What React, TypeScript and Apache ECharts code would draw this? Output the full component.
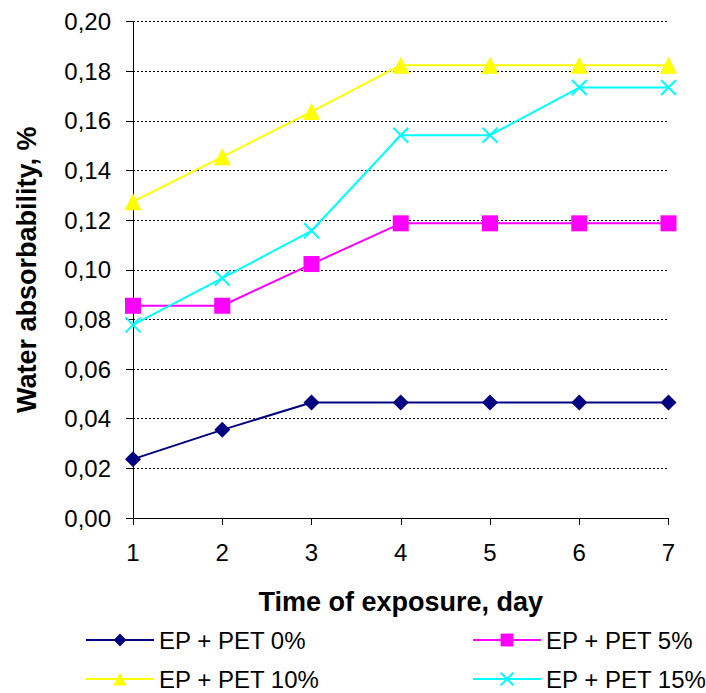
import React, { useEffect, useRef } from "react";
import * as echarts from "echarts";

// Exposure time, days
const days = ["1", "2", "3", "4", "5", "6", "7"];

// Water absorbability, %
const pet0 = [0.0237, 0.0355, 0.0465, 0.0465, 0.0465, 0.0465, 0.0465];
const pet5 = [0.0855, 0.0855, 0.1023, 0.1187, 0.1187, 0.1187, 0.1187];
const pet10 = [0.1274, 0.1455, 0.1637, 0.1824, 0.1824, 0.1824, 0.1824];
const pet15 = [0.0778, 0.0966, 0.1157, 0.1542, 0.1542, 0.1734, 0.1734];

const seriesNames = ["EP + PET 0%", "EP + PET 5%", "EP + PET 10%", "EP + PET 15%"];
const yTicks = { min: 0, max: 0.2, interval: 0.02 };

const FONT = 'Arial, "Liberation Sans", sans-serif';
const CROSS = "path://M0,0L10,10M10,0L0,10";

export default function App() {
  const ref = useRef<HTMLDivElement>(null);

  useEffect(() => {
    if (!ref.current) return;
    const chart = echarts.init(ref.current, undefined, { renderer: "svg" });

    const legendBase = {
      orient: "horizontal",
      itemWidth: 68,
      itemHeight: 16,
      textStyle: { fontFamily: FONT, fontSize: 24, color: "#000" },
      padding: 0,
    };

    const mkSeries = (
      name: string,
      data: number[],
      color: string,
      symbol: string,
      symbolSize: number,
      extraItem: Record<string, unknown> = {}
    ) => ({
      name,
      type: "line",
      data,
      symbol,
      symbolSize,
      showSymbol: true,
      lineStyle: { color, width: 2 },
      itemStyle: { color, ...extraItem },
      emphasis: { disabled: true },
    });

    chart.setOption({
      animation: false,
      backgroundColor: "#fff",
      textStyle: { fontFamily: FONT },
      grid: { left: 133, right: 37.5, top: 21.5, bottom: 175, containLabel: false },
      legend: [
        { ...legendBase, left: 85, top: 628, data: [seriesNames[0]] },
        { ...legendBase, left: 472, top: 628, data: [seriesNames[1]] },
        { ...legendBase, left: 85, top: 667, data: [seriesNames[2]] },
        { ...legendBase, left: 472, top: 667, data: [seriesNames[3]] },
      ],
      xAxis: {
        type: "category",
        data: days,
        boundaryGap: false,
        name: "Time of exposure, day",
        nameLocation: "middle",
        nameGap: 70,
        nameTextStyle: { fontFamily: FONT, fontSize: 27, fontWeight: "bold", color: "#000" },
        axisLine: { lineStyle: { color: "#000", width: 1 } },
        axisTick: { show: true, inside: false, length: 7, lineStyle: { color: "#000" } },
        axisLabel: { fontFamily: FONT, fontSize: 24, color: "#000", margin: 22 },
        splitLine: { show: false },
      },
      yAxis: {
        type: "value",
        min: yTicks.min,
        max: yTicks.max,
        interval: yTicks.interval,
        name: "Water absorbability, %",
        nameLocation: "middle",
        nameRotate: 90,
        nameGap: 93,
        nameTextStyle: { fontFamily: FONT, fontSize: 27, fontWeight: "bold", color: "#000" },
        axisLine: { show: true, lineStyle: { color: "#000", width: 1 } },
        axisTick: { show: true, inside: false, length: 7, lineStyle: { color: "#000" } },
        axisLabel: {
          fontFamily: FONT,
          fontSize: 24,
          color: "#000",
          margin: 22,
          formatter: (v: number) => v.toFixed(2).replace(".", ","),
        },
        splitLine: { show: true, lineStyle: { color: "#000", width: 1, type: [2, 2] } },
      },
      series: [
        mkSeries(seriesNames[0], pet0, "#000080", "diamond", 16),
        mkSeries(seriesNames[1], pet5, "#FF00FF", "rect", 16),
        mkSeries(seriesNames[2], pet10, "#FFFF00", "triangle", 17),
        mkSeries(seriesNames[3], pet15, "#00FFFF", CROSS, 15, {
          borderColor: "#00FFFF",
          borderWidth: 2,
        }),
      ],
    });

    return () => chart.dispose();
  }, []);

  return (
    <div
      ref={ref}
      style={{ position: "absolute", left: 0, top: 0, width: 706, height: 693 }}
    />
  );
}
